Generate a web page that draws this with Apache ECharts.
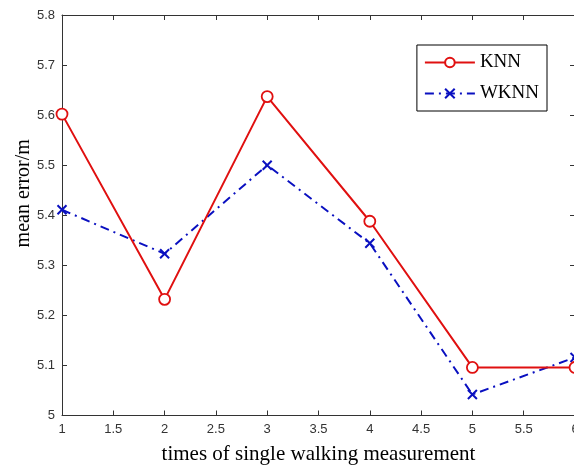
<!DOCTYPE html>
<html>
<head>
<meta charset="utf-8">
<script src="https://cdn.jsdelivr.net/npm/echarts@6/dist/echarts.min.js"></script>
<style>html,body{margin:0;padding:0;background:#fff;}#c{width:574px;height:466px;}</style>
</head>
<body>
<div id="c"></div>
<script>
var xValues = [1, 2, 3, 4, 5, 6];
var knnValues = [5.602, 5.232, 5.637, 5.388, 5.096, 5.096];
var wknnValues = [5.411, 5.323, 5.500, 5.344, 5.042, 5.116];
var seriesNames = ['KNN', 'WKNN'];

function pairs(xs, ys) { return xs.map(function (x, i) { return [x, ys[i]]; }); }

var chart = echarts.init(document.getElementById('c'), null, { renderer: 'canvas' });
var axisColor = '#333';
var labelStyle = { color: '#333', fontFamily: 'Liberation Sans, Arial', fontSize: 13 };
var serif = 'Liberation Serif, Times New Roman';

chart.setOption({
  animation: false,
  backgroundColor: '#fff',
  grid: { left: 62, right: -1, top: 15, bottom: 50.5, containLabel: false, outerBoundsMode: 'none' },
  legend: {
    orient: 'vertical',
    right: 27, top: 45,
    data: seriesNames,
    itemWidth: 50, itemHeight: 12, itemGap: 12,
    padding: [8, 8, 8, 7],
    borderColor: '#000', borderWidth: 1,
    backgroundColor: '#fff',
    textStyle: { color: '#000', fontFamily: serif, fontSize: 19 }
  },
  xAxis: [{
    type: 'value', min: 1, max: 6, interval: 0.5,
    name: 'times of single walking measurement', nameLocation: 'middle', nameGap: 28,
    nameMoveOverlap: false,
    nameTextStyle: { color: '#000', fontFamily: serif, fontSize: 21 },
    axisLine: { lineStyle: { color: axisColor, width: 1 } },
    axisTick: { inside: true, length: 5, lineStyle: { color: axisColor } },
    axisLabel: Object.assign({ margin: 7 }, labelStyle),
    splitLine: { show: false }
  }, {
    type: 'value', position: 'top', min: 1, max: 6, interval: 0.5,
    axisLine: { show: true, lineStyle: { color: axisColor, width: 1 } },
    axisTick: { inside: true, length: 5, lineStyle: { color: axisColor } },
    axisLabel: { show: false }, splitLine: { show: false }
  }],
  yAxis: [{
    type: 'value', min: 5, max: 5.8, interval: 0.1,
    name: 'mean error/m', nameLocation: 'middle', nameGap: 28,
    nameMoveOverlap: false,
    nameTextStyle: { color: '#000', fontFamily: serif, fontSize: 20, padding: [0, 0, 0, 44] },
    axisLine: { show: true, lineStyle: { color: axisColor, width: 1 } },
    axisTick: { show: true, inside: true, length: 5, lineStyle: { color: axisColor } },
    axisLabel: Object.assign({ margin: 7, formatter: function (v) { return String(Math.round(v * 10) / 10); } }, labelStyle),
    splitLine: { show: false }
  }, {
    type: 'value', position: 'right', min: 5, max: 5.8, interval: 0.1,
    axisLine: { show: true, lineStyle: { color: axisColor, width: 1 } },
    axisTick: { show: true, inside: true, length: 5, lineStyle: { color: axisColor } },
    axisLabel: { show: false }, splitLine: { show: false }
  }],
  series: [{
    name: seriesNames[0], type: 'line',
    data: pairs(xValues, knnValues),
    symbol: 'circle', symbolSize: 11, showAllSymbol: true,
    lineStyle: { color: '#e01010', width: 2 },
    itemStyle: { color: '#fff', borderColor: '#e01010', borderWidth: 1.8 },
    z: 3
  }, {
    name: seriesNames[1], type: 'line',
    data: pairs(xValues, wknnValues),
    symbol: 'path://M0,0L10,10M10,0L0,10', symbolSize: 9, showAllSymbol: true,
    lineStyle: { color: '#0a10c0', width: 2, type: [9, 5, 2, 5] },
    itemStyle: { color: 'none', borderColor: '#0a10c0', borderWidth: 2 },
    z: 2
  }]
});
</script>
</body>
</html>
